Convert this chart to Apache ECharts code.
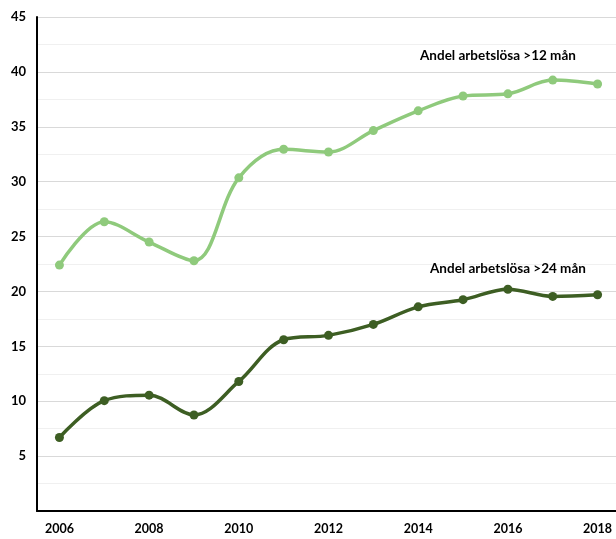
<!DOCTYPE html>
<html>
<head>
<meta charset="utf-8">
<script src="https://cdn.jsdelivr.net/npm/echarts@6/dist/echarts.min.js"></script>
<style>
html,body{margin:0;padding:0;background:#fff;}
#chart{width:616px;height:539px;}
</style>
</head>
<body>
<div id="chart"></div>
<script>
const years = ['2006','2007','2008','2009','2010','2011','2012','2013','2014','2015','2016','2017','2018'];
const over12 = [22.4, 26.35, 24.5, 22.8, 30.35, 32.95, 32.7, 34.65, 36.45, 37.8, 38.0, 39.25, 38.9];
const over24 = [6.7, 10.05, 10.55, 8.75, 11.8, 15.6, 16.0, 17.0, 18.6, 19.25, 20.2, 19.55, 19.7];
const label12 = 'Andel arbetslösa >12 mån';
const label24 = 'Andel arbetslösa >24 mån';
const yTicks = {min: 0, max: 45, interval: 5};

const FONT = 'Lato, "Open Sans", sans-serif';
const chart = echarts.init(document.getElementById('chart'));
chart.setOption({
  animation: false,
  backgroundColor: '#ffffff',
  grid: {left: 37, top: 17, width: 583, bottom: 28, containLabel: false, outerBoundsMode: 'none'},
  xAxis: {
    type: 'category',
    data: years,
    boundaryGap: true,
    axisLine: {show: true, lineStyle: {color: '#000', width: 2}},
    axisTick: {show: false},
    axisLabel: {
      interval: 1, margin: 11,
      color: '#000', fontWeight: 'bold', fontSize: 12.5, fontFamily: FONT
    },
    splitLine: {show: false}
  },
  yAxis: {
    type: 'value',
    min: yTicks.min, max: yTicks.max, interval: yTicks.interval,
    axisLine: {show: true, lineStyle: {color: '#000', width: 2}},
    axisTick: {show: false},
    axisLabel: {
      margin: 11, color: '#000', fontWeight: 'bold', fontSize: 13, fontFamily: FONT,
      formatter: v => v === 0 ? '' : String(v)
    },
    splitLine: {show: true, lineStyle: {color: '#d9d9d9', width: 1}},
    minorTick: {show: false, splitNumber: 2},
    minorSplitLine: {show: true, lineStyle: {color: '#f0f0f0', width: 1}}
  },
  series: [
    {
      name: label12, type: 'line', data: over12, smooth: 0.35,
      symbol: 'circle', symbolSize: 9,
      lineStyle: {color: '#8fca7c', width: 3.5},
      itemStyle: {color: '#8fca7c'}
    },
    {
      name: label24, type: 'line', data: over24, smooth: 0.35,
      symbol: 'circle', symbolSize: 9,
      lineStyle: {color: '#3d5e23', width: 3.5},
      itemStyle: {color: '#3d5e23'}
    }
  ],
  graphic: [
    {type: 'text', z: 100, left: 420, top: 49, style: {text: label12, fill: '#000', font: 'bold 13.5px ' + FONT}},
    {type: 'text', z: 100, left: 430, top: 262, style: {text: label24, fill: '#000', font: 'bold 13.5px ' + FONT}}
  ]
});
</script>
</body>
</html>
